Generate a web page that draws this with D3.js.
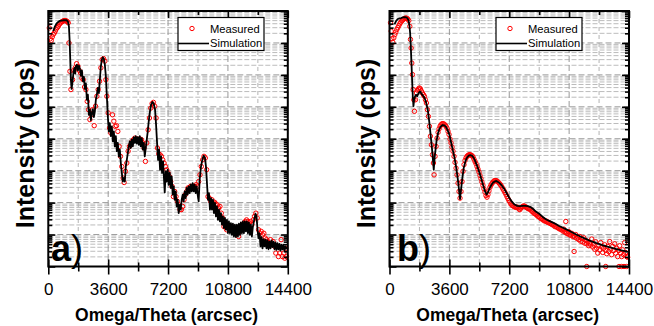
<!DOCTYPE html>
<html>
<head>
<meta charset="utf-8">
<script src="https://cdn.jsdelivr.net/npm/d3@7"></script>
<style>
  body { margin: 0; background: #fff; }
  svg { display: block; }
</style>
</head>
<body>
<svg id="chart" width="654" height="326"></svg>
<script>
// x in arcsec, y as log10 of intensity (cps)
const xTicks = [0, 3600, 7200, 10800, 14400];
const xMinor = [1800, 5400, 9000, 12600];
const yDomain = [1, 1e8];
const legendLabels = ["Measured", "Simulation"];
const xTitle = "Omega/Theta (arcsec)";
const yTitle = "Intensity (cps)";

const aMeas = [[60,7.47],[120,7.13],[180,7.08],[240,7.19],[300,7.27],[360,7.31],[420,7.37],[480,7.44],[540,7.48],[600,7.52],[660,7.58],[720,7.62],[780,7.65],[840,7.67],[900,7.69],[960,7.70],[1020,7.70],[1080,7.69],[1140,7.67],[1200,7.63],[1240,7.00],[1300,6.11],[1360,5.54],[1460,5.85],[1540,6.14],[1620,6.22],[1700,6.35],[1780,6.27],[1860,6.14],[1940,6.06],[2020,5.90],[2100,5.85],[2180,5.62],[2260,5.54],[2340,5.17],[2420,4.91],[2500,4.60],[2580,4.75],[2660,4.91],[2760,4.41],[2840,5.02],[2920,5.33],[3000,5.54],[3080,5.80],[3160,6.22],[3240,6.48],[3320,6.51],[3400,6.43],[3460,5.85],[3520,5.33],[3600,4.81],[3680,4.34],[3760,4.18],[3860,4.75],[3940,4.55],[4020,4.39],[4100,4.41],[4180,4.23],[4260,3.76],[4340,3.45],[4420,3.13],[4500,2.77],[4560,2.63],[4640,2.98],[4720,3.24],[4800,3.61],[4880,3.76],[4960,3.81],[5040,3.92],[5120,3.97],[5200,4.02],[5280,3.97],[5360,3.99],[5440,3.95],[5520,3.99],[5600,3.97],[5680,3.87],[5760,3.71],[5840,3.29],[5920,3.87],[6000,4.28],[6080,4.65],[6160,4.96],[6240,5.10],[6320,5.14],[6400,5.02],[6480,4.65],[6560,3.71],[6640,3.53],[6720,3.50],[6800,3.45],[6880,3.34],[6960,3.24],[7040,3.13],[7120,3.03],[7200,2.93],[7280,2.82],[7360,2.66],[7440,2.51],[7520,2.19],[7600,2.35],[7680,2.19],[7760,2.04],[7840,1.93],[7920,1.78],[8000,1.78],[8080,1.88],[8160,2.09],[8240,2.25],[8320,2.35],[8400,2.46],[8480,2.46],[8560,2.51],[8640,2.46],[8720,2.51],[8800,2.51],[8880,2.56],[8960,2.51],[9040,2.66],[9120,2.87],[9200,3.13],[9280,3.34],[9360,3.45],[9440,3.40],[9520,3.03],[9600,2.19],[9680,2.14],[9760,2.04],[9840,2.09],[9920,1.99],[10000,2.01],[10080,1.96],[10160,1.93],[10240,1.83],[10320,1.88],[10400,1.67],[10480,1.52],[10560,1.25],[10640,1.31],[10720,1.15],[10800,1.25],[10880,1.20],[10960,1.15],[11040,1.25],[11120,1.15],[11200,1.20],[11280,1.04],[11360,1.04],[11440,0.94],[11520,1.10],[11600,1.15],[11680,1.25],[11760,1.36],[11840,1.41],[11920,1.46],[12000,1.41],[12080,1.36],[12160,1.41],[12240,1.31],[12320,1.46],[12400,1.57],[12480,1.67],[12560,1.52],[12640,1.15],[12720,1.04],[12800,1.10],[12880,0.99],[12960,1.04],[13040,0.89],[13120,0.84],[13200,0.78],[13280,0.73],[13360,0.84],[13440,0.68],[13520,0.78],[13600,0.63],[13680,0.42],[13760,0.63],[13840,0.31],[13920,0.42],[14000,0.84],[14080,0.31],[14160,0.42],[14220,0.26],[14280,0.57],[14320,0.31]];

const aSim = [[300,7.37],[400,7.52],[500,7.61],[600,7.66],[700,7.69],[900,7.71],[1100,7.71],[1180,7.67],[1240,7.52],[1280,7.11],[1320,6.48],[1360,5.85],[1400,5.56],[1460,5.80],[1520,6.11],[1580,6.22],[1620,6.04],[1660,6.27],[1720,6.32],[1780,6.14],[1840,6.29],[1900,6.19],[1960,5.98],[2020,6.14],[2080,5.80],[2140,5.94],[2200,5.56],[2260,5.73],[2320,5.22],[2380,5.38],[2440,4.75],[2500,4.91],[2560,4.58],[2620,4.81],[2680,4.93],[2740,4.68],[2800,4.86],[2860,5.22],[2920,5.38],[2980,5.59],[3040,5.43],[3100,5.85],[3160,6.27],[3220,6.48],[3280,6.55],[3340,6.50],[3400,6.32],[3460,5.96],[3520,5.33],[3580,4.70],[3640,4.23],[3700,4.49],[3760,4.08],[3820,4.39],[3880,3.92],[3940,4.23],[4000,3.76],[4060,4.08],[4120,3.61],[4180,3.87],[4240,3.45],[4300,3.66],[4360,3.24],[4420,2.93],[4480,2.66],[4540,2.77],[4600,2.66],[4660,3.13],[4720,3.34],[4780,3.55],[4840,3.76],[4900,3.92],[4960,3.71],[5020,3.97],[5080,3.76],[5140,4.05],[5200,3.87],[5260,4.08],[5320,3.85],[5380,4.05],[5440,3.81],[5500,4.08],[5560,3.76],[5620,4.02],[5680,3.66],[5740,3.87],[5800,3.45],[5860,3.71],[5920,3.97],[5980,4.23],[6040,4.55],[6100,4.81],[6180,5.07],[6260,5.15],[6340,5.10],[6420,4.91],[6480,4.44],[6540,3.87],[6600,3.34],[6660,3.66],[6720,3.03],[6780,3.45],[6840,2.93],[6900,3.29],[6960,2.72],[7000,2.32],[7060,2.98],[7120,2.66],[7180,3.03],[7240,2.56],[7300,2.93],[7360,2.46],[7420,2.82],[7480,2.25],[7540,2.51],[7600,2.09],[7660,2.35],[7720,1.88],[7780,2.09],[7840,1.67],[7900,1.93],[7960,1.78],[8020,2.09],[8080,2.25],[8140,2.04],[8200,2.35],[8260,2.14],[8320,2.46],[8380,2.25],[8440,2.51],[8500,2.30],[8560,2.56],[8620,2.35],[8680,2.61],[8740,2.35],[8800,2.56],[8860,2.30],[8920,2.51],[8980,2.25],[9040,2.04],[9100,2.72],[9180,3.13],[9260,3.34],[9340,3.47],[9420,3.40],[9480,3.13],[9540,2.61],[9600,2.09],[9660,2.30],[9720,1.78],[9780,2.14],[9840,1.78],[9900,2.09],[9960,1.67],[10020,1.99],[10080,1.57],[10140,1.88],[10200,1.46],[10260,1.78],[10320,1.41],[10380,1.67],[10440,1.31],[10500,1.57],[10560,1.20],[10620,1.52],[10680,1.15],[10740,1.46],[10800,1.04],[10860,1.41],[10920,1.04],[10980,1.36],[11040,0.99],[11100,1.34],[11160,0.94],[11220,1.31],[11280,0.92],[11340,1.31],[11400,0.94],[11460,1.34],[11520,0.99],[11580,1.38],[11640,1.04],[11700,1.41],[11760,1.04],[11820,1.41],[11880,1.10],[11940,1.41],[12000,1.04],[12060,1.38],[12120,0.99],[12180,1.31],[12240,0.94],[12300,1.25],[12380,1.46],[12460,1.65],[12520,1.57],[12580,1.15],[12640,0.89],[12700,1.04],[12760,0.63],[12820,0.92],[12880,0.57],[12940,0.86],[13000,0.63],[13060,0.84],[13120,0.57],[13180,0.82],[13240,0.54],[13300,0.78],[13360,0.57],[13420,0.82],[13480,0.61],[13540,0.78],[13600,0.54],[13660,0.75],[13720,0.52],[13780,0.73],[13840,0.54],[13900,0.71],[13960,0.50],[14020,0.68],[14080,0.54],[14140,0.68],[14200,0.50],[14260,0.63],[14320,0.54]];

const bMeas = [[60,7.63],[100,7.37],[140,7.13],[200,7.02],[260,7.16],[320,7.26],[380,7.34],[440,7.42],[500,7.48],[560,7.54],[620,7.60],[680,7.65],[740,7.69],[800,7.72],[860,7.75],[920,7.77],[980,7.78],[1040,7.77],[1100,7.75],[1160,7.70],[1220,7.52],[1260,7.11],[1300,6.84],[1340,6.37],[1380,6.01],[1420,5.54],[1460,5.22],[1500,4.86],[1560,5.22],[1620,5.43],[1680,5.52],[1740,5.56],[1800,5.59],[1860,5.56],[1920,5.49],[1980,5.43],[2040,5.38],[2100,5.33],[2160,5.22],[2220,5.12],[2280,4.91],[2340,4.70],[2400,4.39],[2460,4.08],[2520,3.81],[2580,3.50],[2640,3.24],[2680,2.87],[2740,3.45],[2800,3.76],[2860,4.02],[2920,4.20],[2980,4.31],[3040,4.39],[3100,4.44],[3160,4.47],[3220,4.47],[3280,4.46],[3340,4.43],[3400,4.39],[3460,4.33],[3520,4.23],[3580,4.13],[3640,3.99],[3700,3.87],[3760,3.74],[3820,3.61],[3880,3.45],[3940,3.26],[4000,3.08],[4060,2.87],[4120,2.61],[4180,2.35],[4240,2.14],[4300,2.35],[4360,2.66],[4420,2.98],[4480,3.19],[4540,3.32],[4600,3.40],[4660,3.45],[4720,3.48],[4780,3.50],[4840,3.50],[4900,3.49],[4960,3.47],[5020,3.43],[5080,3.36],[5140,3.29],[5200,3.22],[5260,3.13],[5320,3.05],[5380,2.96],[5440,2.85],[5500,2.75],[5560,2.64],[5620,2.54],[5680,2.43],[5740,2.33],[5800,2.22],[5860,2.17],[5920,2.25],[5980,2.37],[6040,2.48],[6100,2.55],[6160,2.60],[6220,2.64],[6280,2.68],[6340,2.69],[6400,2.69],[6460,2.68],[6520,2.65],[6580,2.62],[6640,2.58],[6700,2.54],[6760,2.49],[6820,2.43],[6880,2.38],[6940,2.32],[7000,2.26],[7060,2.19],[7120,2.13],[7180,2.07],[7240,2.02],[7300,1.96],[7360,1.92],[7420,1.90],[7480,1.88],[7540,1.86],[7600,1.85],[7660,1.86],[7720,1.84],[7780,1.80],[7840,1.78],[7900,1.83],[7960,1.86],[8020,1.88],[8080,1.90],[8140,1.88],[8200,1.86],[8260,1.84],[8320,1.82],[8380,1.80],[8440,1.80],[8500,1.77],[8560,1.73],[8620,1.71],[8680,1.67],[8740,1.66],[8800,1.63],[8860,1.61],[8920,1.57],[8980,1.56],[9040,1.54],[9100,1.50],[9160,1.50],[9220,1.46],[9280,1.45],[9340,1.42],[9400,1.43],[9460,1.40],[9520,1.38],[9580,1.38],[9640,1.35],[9700,1.34],[9760,1.32],[9820,1.30],[9880,1.30],[9940,1.25],[10000,1.26],[10060,1.23],[10120,1.21],[10180,1.20],[10240,1.17],[10300,1.17],[10360,1.15],[10420,1.11],[10480,1.17],[10540,1.08],[10600,1.41],[10600,1.07],[10660,1.04],[10720,1.02],[10780,1.09],[10840,0.99],[10900,0.98],[10960,1.04],[11020,0.94],[11080,0.96],[11100,0.47],[11140,0.92],[11200,1.00],[11260,0.88],[11320,0.92],[11380,0.84],[11440,0.94],[11500,0.79],[11560,0.88],[11620,0.77],[11680,0.90],[11740,0.73],[11800,0.82],[11860,0.71],[11860,0.00],[11920,0.77],[11980,0.65],[12040,0.73],[12100,0.67],[12160,0.86],[12220,0.61],[12280,0.71],[12340,0.54],[12400,0.77],[12460,0.57],[12520,0.42],[12580,0.65],[12640,0.52],[12700,0.75],[12760,0.61],[12820,0.44],[12880,0.57],[12940,0.68],[13000,0.50],[13000,0.00],[13060,0.40],[13120,0.63],[13180,0.47],[13240,0.78],[13300,0.54],[13360,0.37],[13420,0.63],[13480,0.50],[13540,0.71],[13600,0.42],[13660,0.57],[13720,0.31],[13780,0.50],[13800,0.00],[13840,0.65],[13900,0.42],[13960,0.31],[13960,0.00],[14020,0.52],[14080,0.37],[14100,0.00],[14140,0.75],[14200,0.44],[14260,0.31],[14260,0.00],[14320,0.29]];

const bSim = [[300,7.58],[400,7.69],[500,7.75],[600,7.77],[700,7.78],[800,7.80],[900,7.81],[1000,7.80],[1080,7.77],[1140,7.71],[1200,7.54],[1240,7.31],[1280,6.90],[1320,6.37],[1360,5.85],[1400,5.33],[1440,5.02],[1480,5.22],[1540,5.33],[1600,5.38],[1660,5.33],[1720,5.40],[1780,5.45],[1840,5.48],[1900,5.43],[1960,5.38],[2040,5.33],[2120,5.26],[2200,5.14],[2300,4.91],[2400,4.49],[2500,3.97],[2560,3.66],[2620,3.29],[2660,3.03],[2720,3.45],[2780,3.71],[2840,3.97],[2920,4.18],[3000,4.31],[3100,4.39],[3200,4.43],[3300,4.42],[3400,4.37],[3500,4.26],[3600,4.13],[3700,3.89],[3800,3.66],[3900,3.43],[4000,3.13],[4100,2.77],[4180,2.40],[4240,2.11],[4300,2.40],[4380,2.77],[4460,3.08],[4560,3.29],[4660,3.41],[4760,3.47],[4860,3.49],[4960,3.47],[5060,3.41],[5160,3.29],[5280,3.13],[5400,2.95],[5520,2.74],[5640,2.53],[5740,2.36],[5840,2.25],[5920,2.32],[6020,2.45],[6120,2.55],[6220,2.62],[6320,2.66],[6420,2.68],[6520,2.65],[6620,2.61],[6760,2.53],[6900,2.43],[7040,2.30],[7200,2.15],[7360,2.03],[7520,1.94],[7680,1.90],[7840,1.89],[8000,1.90],[8160,1.90],[8320,1.89],[8480,1.86],[8640,1.80],[8800,1.72],[9000,1.65],[9200,1.56],[9400,1.48],[9600,1.43],[9800,1.38],[10000,1.33],[10200,1.27],[10400,1.22],[10600,1.17],[10800,1.12],[11200,1.01],[11600,0.91],[12000,0.82],[12400,0.74],[12800,0.67],[13200,0.61],[13600,0.55],[14000,0.50],[14260,0.47]];

const FONT = '"Liberation Sans", Arial, Helvetica, sans-serif';
const plotTop = 11, plotBottom = 266.5, plotW = 239.5;

const panels = [
    { label: "a", meas: aMeas, sim: aSim, left: 48.3, labelX: 51, legendX: 178 },
    { label: "b", meas: bMeas, sim: bSim, left: 389.5, labelX: 397, legendX: 496 }
];

const svg = d3.select("#chart");

function drawPanel(p) {
    const x = d3.scaleLinear().domain([0, 14400]).range([p.left, p.left + plotW]);
    const y = d3.scaleLog().domain(yDomain).range([plotBottom, plotTop]);
    const g = svg.append("g");

    const isDecade = v => Math.abs(Math.log10(v) - Math.round(Math.log10(v))) < 1e-6;
    const yMajor = y.ticks().filter(isDecade);
    const yMinorT = y.ticks().filter(v => !isDecade(v));

    // grid
    const grid = g.append("g").attr("fill", "none");
    grid.selectAll("line.hmin").data(yMinorT).join("line").attr("class", "hmin")
        .attr("x1", x(0)).attr("x2", x(14400)).attr("y1", d => y(d)).attr("y2", d => y(d))
        .attr("stroke", "#bcbcbc").attr("stroke-dasharray", "5,2");
    grid.selectAll("line.vmin").data(xMinor).join("line").attr("class", "vmin")
        .attr("x1", d => x(d)).attr("x2", d => x(d)).attr("y1", plotTop).attr("y2", plotBottom)
        .attr("stroke", "#b4b4b4").attr("stroke-dasharray", "4,4");
    grid.selectAll("line.vmaj").data(xTicks).join("line").attr("class", "vmaj")
        .attr("x1", d => x(d)).attr("x2", d => x(d)).attr("y1", plotTop).attr("y2", plotBottom)
        .attr("stroke", "#999").attr("stroke-dasharray", "6,3");
    grid.selectAll("line.hmaj").data(yMajor).join("line").attr("class", "hmaj")
        .attr("x1", x(0)).attr("x2", x(14400)).attr("y1", d => y(d)).attr("y2", d => y(d))
        .attr("stroke", "#999").attr("stroke-dasharray", "6,3");

    // measured
    g.append("g").selectAll("circle").data(p.meas).join("circle")
        .attr("cx", d => x(d[0])).attr("cy", d => y(10 ** d[1])).attr("r", 2.2)
        .attr("fill", "none").attr("stroke", "#ff0000").attr("stroke-width", 1);

    // simulation
    const line = d3.line().x(d => x(d[0])).y(d => y(10 ** d[1]));
    g.append("path").attr("d", line(p.sim)).attr("fill", "none")
        .attr("stroke", "#000").attr("stroke-width", 1.8).attr("stroke-linejoin", "round");

    // axes
    const clean = s => s.call(a => a.select(".domain").remove()).selectAll("line").attr("stroke-width", 1.6);
    const bot = `translate(0,${plotBottom})`, topT = `translate(0,${plotTop})`;
    g.append("g").attr("transform", bot).call(d3.axisBottom(x).tickValues(xTicks).tickSize(-7).tickFormat("")).call(clean);
    g.append("g").attr("transform", bot).call(d3.axisBottom(x).tickValues(xMinor).tickSize(-4).tickFormat("")).call(clean);
    g.append("g").attr("transform", bot).call(d3.axisBottom(x).tickValues(xMinor).tickSize(5).tickFormat("")).call(clean);
    const lab = g.append("g").attr("transform", bot)
        .call(d3.axisBottom(x).tickValues(xTicks).tickSize(8).tickPadding(8.5).tickFormat(d3.format("d")));
    clean(lab);
    lab.attr("font-family", FONT).attr("font-size", 17).selectAll("text").attr("fill", "#000");

    g.append("g").attr("transform", topT).call(d3.axisTop(x).tickValues(xTicks).tickSize(-7).tickFormat("")).call(clean);
    g.append("g").attr("transform", topT).call(d3.axisTop(x).tickValues(xMinor).tickSize(-4).tickFormat("")).call(clean);

    g.append("g").attr("transform", `translate(${x(0)},0)`).call(d3.axisLeft(y).tickValues(yMajor).tickSize(-7).tickFormat("")).call(clean);
    g.append("g").attr("transform", `translate(${x(0)},0)`).call(d3.axisLeft(y).tickValues(yMinorT).tickSize(-4).tickFormat("")).call(clean);
    g.append("g").attr("transform", `translate(${x(14400)},0)`).call(d3.axisRight(y).tickValues(yMajor).tickSize(-7).tickFormat("")).call(clean);
    g.append("g").attr("transform", `translate(${x(14400)},0)`).call(d3.axisRight(y).tickValues(yMinorT).tickSize(-4).tickFormat("")).call(clean);

    // frame
    g.append("rect").attr("x", x(0)).attr("y", plotTop).attr("width", plotW).attr("height", plotBottom - plotTop)
        .attr("fill", "none").attr("stroke", "#000").attr("stroke-width", 2);

    // titles
    g.append("text").attr("x", p.left + plotW / 2 - 1.5).attr("y", 321)
        .attr("text-anchor", "middle").attr("font-family", FONT).attr("font-weight", "bold")
        .attr("font-size", 17.5).text(xTitle);
    g.append("text").attr("transform", `translate(${p.left - 14.8},143.5) rotate(-90)`)
        .attr("text-anchor", "middle").attr("font-family", FONT).attr("font-weight", "bold")
        .attr("font-size", 25).text(yTitle);

    // panel label
    const pl = g.append("text").attr("x", p.labelX).attr("y", 261)
        .attr("font-family", FONT).attr("font-size", 36);
    pl.append("tspan").attr("font-weight", "bold").text(p.label);
    pl.append("tspan").text(")");

    // legend
    const lg = g.append("g").attr("transform", `translate(${p.legendX},17.5)`);
    lg.append("rect").attr("width", 86).attr("height", 33).attr("fill", "#fff")
        .attr("stroke", "#000").attr("stroke-width", 1.2);
    lg.append("circle").attr("cx", 14).attr("cy", 11).attr("r", 2.2)
        .attr("fill", "none").attr("stroke", "#ff0000").attr("stroke-width", 1);
    lg.append("line").attr("x1", 0).attr("x2", 31).attr("y1", 26).attr("y2", 26)
        .attr("stroke", "#000").attr("stroke-width", 1.6);
    lg.selectAll("text").data(legendLabels).join("text")
        .attr("x", 32).attr("y", (d, i) => 15 + i * 14.5)
        .attr("font-family", FONT).attr("font-size", 11.2).text(d => d);
}

panels.forEach(drawPanel);
</script>
</body>
</html>
